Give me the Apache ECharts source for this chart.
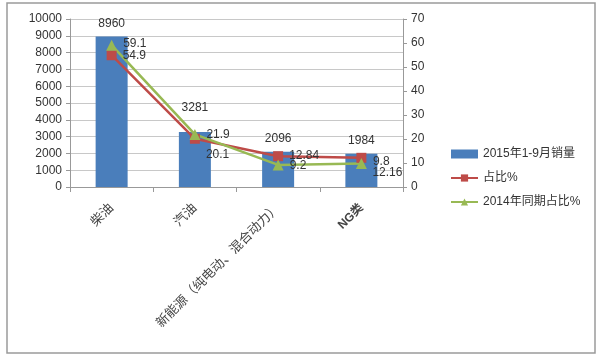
<!DOCTYPE html>
<html><head><meta charset="utf-8">
<script src="https://cdn.jsdelivr.net/npm/echarts@6/dist/echarts.min.js"></script>
<style>html,body{margin:0;padding:0;background:#fff}#c{width:600px;height:363px}</style>
</head><body><div id="c"></div>
<script>
var categories = ['柴油', '汽油', '新能源（纯电动、混合动力）', 'NG类'];
var sales2015 = [8960, 3281, 2096, 1984];
var share2015 = [54.9, 20.1, 12.84, 12.16];
var share2014 = [59.1, 21.9, 9.2, 9.8];
var leftTicks = [0, 10000, 1000];
var rightTicks = [0, 70, 10];
var seriesNames = ['2015年1-9月销量', '占比%', '2014年同期占比%'];

var barOffsets = [[0,-2],[0,-13],[0,-2],[0,-2]];
var redOffsets = [[0,0],[0,16],[0,0],[0,15]];
var greenOffsets = [[0,-1],[0,0],[0,1],[0,-2]];
var FF = '"Liberation Sans","Noto Sans CJK SC",sans-serif';

var chart = echarts.init(document.getElementById('c'));
chart.setOption({
  animation: false,
  textStyle: {fontFamily: FF},
  graphic: [{type: 'rect', shape: {x: 7, y: 3, width: 588, height: 350},
    style: {fill: 'none', stroke: '#9a9a9a', lineWidth: 1.5}, z: -1}],
  grid: {left: 70, right: 197, top: 19, bottom: 176},
  legend: {
    orient: 'vertical', left: 445, top: 143, itemGap: 12, itemWidth: 27, itemHeight: 9,
    textStyle: {fontSize: 12, color: '#333', fontFamily: FF},
    data: [
      {name: seriesNames[0], icon: 'rect'},
      {name: seriesNames[1]},
      {name: seriesNames[2]}
    ]
  },
  xAxis: {
    type: 'category',
    data: categories.map(function (c) {
      return c === 'NG类' ? {value: c, textStyle: {fontWeight: 'bold', fontSize: 12}} : c;
    }),
    axisLine: {lineStyle: {color: '#999'}},
    axisTick: {show: true, length: 5, lineStyle: {color: '#999'}},
    axisLabel: {rotate: 45, fontSize: 13, color: '#444', fontFamily: FF, margin: 19}
  },
  yAxis: [{
    type: 'value', min: leftTicks[0], max: leftTicks[1], interval: leftTicks[2],
    axisLine: {show: true, lineStyle: {color: '#999'}},
    axisTick: {show: true, length: 4, lineStyle: {color: '#999'}},
    axisLabel: {fontSize: 12, color: '#333', fontFamily: FF, formatter: function (v) { return String(v); }},
    splitLine: {lineStyle: {color: '#c8c8c8'}}
  }, {
    type: 'value', min: rightTicks[0], max: rightTicks[1], interval: rightTicks[2],
    axisLine: {show: true, lineStyle: {color: '#999'}},
    axisTick: {show: true, length: 4, lineStyle: {color: '#999'}},
    axisLabel: {fontSize: 12, color: '#333', fontFamily: FF},
    splitLine: {show: false}
  }],
  series: [{
    name: seriesNames[0], type: 'bar', barWidth: 32,
    itemStyle: {color: '#4a7ebb'},
    data: sales2015.map(function (v, i) {
      return {value: v, label: {offset: barOffsets[i]}};
    }),
    label: {show: true, position: 'top', fontSize: 12, color: '#333', fontFamily: FF}
  }, {
    name: seriesNames[1], type: 'line', yAxisIndex: 1,
    symbol: 'rect', symbolSize: 10,
    lineStyle: {color: '#be4b48', width: 2.5},
    itemStyle: {color: '#be4b48'},
    data: share2015.map(function (v, i) {
      return {value: v, label: {offset: redOffsets[i]}};
    }),
    label: {show: true, position: 'right', distance: 6, fontSize: 12, color: '#333', fontFamily: FF}
  }, {
    name: seriesNames[2], type: 'line', yAxisIndex: 1,
    symbol: 'triangle', symbolSize: 11,
    lineStyle: {color: '#98b954', width: 2.5},
    itemStyle: {color: '#98b954'},
    data: share2014.map(function (v, i) {
      return {value: v, label: {offset: greenOffsets[i]}};
    }),
    label: {show: true, position: 'right', distance: 6, fontSize: 12, color: '#333', fontFamily: FF}
  }]
});
</script></body></html>
